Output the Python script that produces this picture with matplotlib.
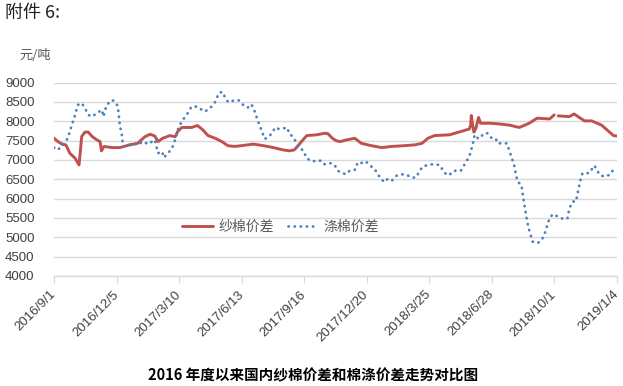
import matplotlib
matplotlib.use("Agg")
import matplotlib.pyplot as plt
import numpy as np
import pandas as pd

plt.rcParams['font.family'] = ['Liberation Sans', 'Noto Sans CJK SC', 'DejaVu Sans']

# 纱棉价差 (yarn-cotton spread)
yarn_dates = ["2016-09-01", "2016-09-07", "2016-09-14", "2016-09-19", "2016-09-25", "2016-10-03",
              "2016-10-09", "2016-10-11", "2016-10-13", "2016-10-18", "2016-10-23", "2016-10-29",
              "2016-11-05", "2016-11-10", "2016-11-12", "2016-11-16", "2016-11-28", "2016-12-10",
              "2016-12-25", "2017-01-06", "2017-01-17", "2017-01-25", "2017-02-01", "2017-02-06",
              "2017-02-13", "2017-02-24", "2017-03-04", "2017-03-08", "2017-03-14", "2017-03-29",
              "2017-04-07", "2017-04-15", "2017-04-23", "2017-05-04", "2017-05-14", "2017-05-23",
              "2017-06-02", "2017-06-13", "2017-06-22", "2017-07-01", "2017-07-16", "2017-07-31",
              "2017-08-15", "2017-08-25", "2017-09-01", "2017-09-06", "2017-09-12", "2017-09-20",
              "2017-10-05", "2017-10-17", "2017-10-22", "2017-10-29", "2017-11-04", "2017-11-10",
              "2017-11-20", "2017-12-02", "2017-12-12", "2017-12-27", "2018-01-12", "2018-01-27",
              "2018-02-16", "2018-03-03", "2018-03-14", "2018-03-23", "2018-04-02", "2018-04-25",
              "2018-05-15", "2018-05-25", "2018-05-27", "2018-05-28", "2018-05-30", "2018-06-01",
              "2018-06-04", "2018-06-08", "2018-06-11", "2018-06-25", "2018-07-10", "2018-07-25",
              "2018-08-09", "2018-08-24", "2018-09-05", "2018-09-24", "2018-10-01", "2018-10-04",
              "2018-10-07", "2018-10-24", "2018-10-31", "2018-11-16", "2018-11-27", "2018-12-12",
              "2018-12-20", "2018-12-30", "2019-01-04"]
yarn_vals = [7560, 7475, 7400, 7390, 7175, 7045,
             6870, 7220, 7605, 7720, 7720, 7605,
             7520, 7475, 7235, 7350, 7320, 7320,
             7390, 7430, 7600, 7665, 7620, 7475,
             7560, 7630, 7600, 7735, 7840, 7840,
             7890, 7780, 7630, 7560, 7475, 7370,
             7350, 7370, 7390, 7410, 7370, 7320,
             7260, 7235, 7260, 7350, 7475, 7630,
             7650, 7690, 7680, 7560, 7495, 7475,
             7520, 7560, 7430, 7370, 7320, 7350,
             7370, 7390, 7430, 7560, 7630, 7650,
             7750, 7800, 7900, 8150, 7900, 7720,
             7820, 8100, 7950, 7950, 7930, 7900,
             7840, 7950, 8080, 8060, 8165, np.nan,
             8140, 8120, 8190, 8010, 8010, 7900,
             7780, 7630, 7620]

# 涤棉价差 (polyester-cotton spread)
poly_dates = ["2016-09-01", "2016-09-07", "2016-09-14", "2016-09-22", "2016-09-28", "2016-10-03",
              "2016-10-07", "2016-10-13", "2016-10-18", "2016-10-23", "2016-10-29", "2016-11-05",
              "2016-11-13", "2016-11-15", "2016-11-20", "2016-11-28", "2016-12-03", "2016-12-07",
              "2016-12-10", "2016-12-13", "2016-12-15", "2016-12-22", "2016-12-30", "2017-01-06",
              "2017-01-14", "2017-01-22", "2017-02-01", "2017-02-06", "2017-02-12", "2017-02-15",
              "2017-02-21", "2017-02-27", "2017-03-04", "2017-03-08", "2017-03-14", "2017-03-22",
              "2017-03-29", "2017-04-06", "2017-04-14", "2017-04-18", "2017-04-26", "2017-05-03",
              "2017-05-06", "2017-05-11", "2017-05-16", "2017-05-19", "2017-05-24", "2017-05-31",
              "2017-06-08", "2017-06-14", "2017-06-16", "2017-06-22", "2017-06-28", "2017-07-03",
              "2017-07-08", "2017-07-14", "2017-07-18", "2017-07-23", "2017-07-29", "2017-08-03",
              "2017-08-08", "2017-08-13", "2017-08-21", "2017-08-25", "2017-08-30", "2017-09-05",
              "2017-09-09", "2017-09-14", "2017-09-20", "2017-09-28", "2017-10-05", "2017-10-13",
              "2017-10-17", "2017-10-25", "2017-11-01", "2017-11-06", "2017-11-12", "2017-11-18",
              "2017-11-24", "2017-12-02", "2017-12-05", "2017-12-09", "2017-12-14", "2017-12-20",
              "2017-12-25", "2018-01-01", "2018-01-06", "2018-01-11", "2018-01-16", "2018-01-21",
              "2018-01-27", "2018-02-04", "2018-02-11", "2018-02-19", "2018-02-26", "2018-03-05",
              "2018-03-10", "2018-03-15", "2018-03-23", "2018-03-31", "2018-04-10", "2018-04-17",
              "2018-04-24", "2018-05-01", "2018-05-12", "2018-05-19", "2018-05-25", "2018-05-30",
              "2018-06-02", "2018-06-07", "2018-06-10", "2018-06-16", "2018-06-22", "2018-06-30",
              "2018-07-05", "2018-07-07", "2018-07-21", "2018-07-27", "2018-08-01", "2018-08-06",
              "2018-08-12", "2018-08-15", "2018-08-20", "2018-08-23", "2018-08-29", "2018-09-06",
              "2018-09-12", "2018-09-16", "2018-09-19", "2018-09-24", "2018-09-29", "2018-10-06",
              "2018-10-14", "2018-10-21", "2018-10-24", "2018-10-29", "2018-11-03", "2018-11-06",
              "2018-11-10", "2018-11-13", "2018-11-23", "2018-12-01", "2018-12-09", "2018-12-16",
              "2018-12-24", "2018-12-27", "2019-01-04"]
poly_vals = [7320, 7260, 7390, 7560, 7900, 8165,
             8420, 8470, 8340, 8165, 8120, 8210,
             8295, 8120, 8420, 8550, 8510, 8380,
             7900, 7650, 7350, 7370, 7430, 7390,
             7475, 7410, 7520, 7175, 7220, 7060,
             7175, 7290, 7520, 7780, 7995, 8180,
             8380, 8380, 8295, 8250, 8340, 8470,
             8600, 8750, 8750, 8600, 8490, 8530,
             8550, 8440, 8420, 8350, 8440, 8250,
             7995, 7735, 7545, 7580, 7690, 7840,
             7805, 7805, 7840, 7665, 7605, 7430,
             7290, 7260, 7045, 6960, 6980, 6980,
             6890, 6920, 6880, 6720, 6675, 6630,
             6720, 6745, 6890, 6855, 6960, 6940,
             6855, 6770, 6630, 6510, 6425, 6510,
             6460, 6600, 6630, 6615, 6545, 6545,
             6700, 6830, 6870, 6890, 6870, 6670,
             6600, 6720, 6720, 6920, 7090, 7390,
             7650, 7560, 7560, 7690, 7690, 7520,
             7520, 7430, 7430, 7130, 6870, 6440,
             6360, 6010, 5500, 5240, 4890, 4850,
             4935, 5065, 5240, 5500, 5600, 5540,
             5480, 5480, 5750, 5925, 5925, 6180,
             6485, 6660, 6660, 6855, 6615, 6570,
             6615, 6700, 6770]

tick_dates = ["2016-09-01", "2016-12-05", "2017-03-10", "2017-06-13", "2017-09-16",
              "2017-12-20", "2018-03-25", "2018-06-28", "2018-10-01", "2019-01-04"]
tick_labels = ["2016/9/1", "2016/12/5", "2017/3/10", "2017/6/13", "2017/9/16",
               "2017/12/20", "2018/3/25", "2018/6/28", "2018/10/1", "2019/1/4"]
y_ticks = [4000, 4500, 5000, 5500, 6000, 6500, 7000, 7500, 8000, 8500, 9000]
series_names = ["纱棉价差", "涤棉价差"]

fig = plt.figure(figsize=(6.23, 3.86), dpi=100)
ax = fig.add_axes([0.0867, 0.285, 0.9033, 0.501])

label_gray = "#404040"
gray = "#595959"
ax.plot(pd.to_datetime(yarn_dates), yarn_vals, color="#C0504D", lw=2.1,
        solid_capstyle="round", solid_joinstyle="round", label=series_names[0], zorder=3)
ax.plot(pd.to_datetime(poly_dates), poly_vals, color="#4F81BD", lw=2.0,
        linestyle=(0, (0.1, 2.1)), dash_capstyle="round", label=series_names[1], zorder=3)

ax.set_xlim(pd.Timestamp("2016-09-01"), pd.Timestamp("2019-01-04"))
ax.set_ylim(4000, 9000)
ax.set_yticks(y_ticks)
ax.set_yticklabels([str(v) for v in y_ticks])
ax.yaxis.grid(True, color="#D9D9D9", lw=1.0)
ax.set_axisbelow(True)
for s in ["top", "right", "left"]:
    ax.spines[s].set_visible(False)
ax.spines["bottom"].set_color("#D9D9D9")
ax.spines["bottom"].set_linewidth(1.0)
ax.tick_params(axis="y", length=0, pad=14, labelsize=9.5, labelcolor=label_gray)
ax.set_xticks(pd.to_datetime(tick_dates))
ax.set_xticklabels(tick_labels, rotation=45, ha="right", va="center", rotation_mode="anchor")
ax.tick_params(axis="x", length=5, color="#D9D9D9", pad=7, labelsize=9.5, labelcolor=label_gray)

leg = ax.legend(loc="center", bbox_to_anchor=(0.403, 0.253), ncol=2, frameon=False,
                handlelength=2.2, columnspacing=1.0, handletextpad=0.4,
                prop={"family": ["Noto Sans CJK SC"], "size": 10})
for t in leg.get_texts():
    t.set_color(gray)

fig.text(0.057, 0.855, "元/吨", fontsize=9.5, color=gray, ha="center", va="center",
         family=["Noto Sans CJK SC"])
fig.text(0.008, 0.967, "附件 6:", fontsize=13, color="#222222", ha="left", va="center",
         family=["Noto Sans CJK SC"])
fig.text(0.503, 0.028, "2016 年度以来国内纱棉价差和棉涤价差走势对比图", fontsize=10.5,
         fontweight="bold", color="black", ha="center", va="center",
         family=["Noto Sans CJK SC"])

fig.savefig("out.png", dpi=100)
